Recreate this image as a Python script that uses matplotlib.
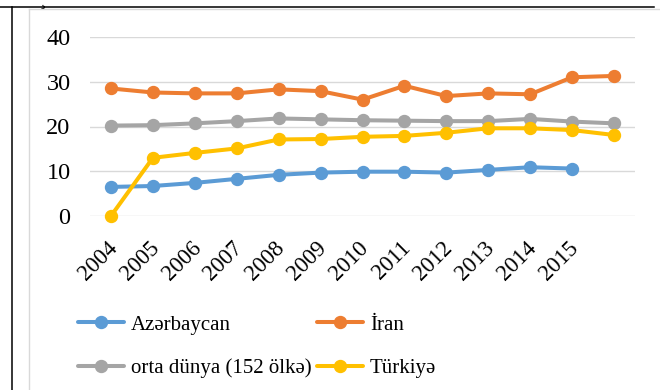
import matplotlib
matplotlib.use("Agg")
import matplotlib.pyplot as plt
from matplotlib.lines import Line2D
from matplotlib.transforms import ScaledTranslation

plt.rcParams['font.family'] = ['Liberation Serif', 'DejaVu Serif']

years = ['2004', '2005', '2006', '2007', '2008', '2009', '2010',
         '2011', '2012', '2013', '2014', '2015', '']
azerbaijan = [6.5, 6.7, 7.4, 8.3, 9.2, 9.7, 9.9, 9.9, 9.7, 10.3, 10.9, 10.6, None]
iran = [28.5, 27.6, 27.4, 27.4, 28.3, 27.9, 26.0, 29.1, 26.8, 27.4, 27.2, 31.0, 31.3]
world_avg = [20.2, 20.3, 20.7, 21.2, 21.8, 21.6, 21.4, 21.3, 21.2, 21.2, 21.7, 21.1, 20.7]
turkey = [0.0, 13.0, 14.1, 15.1, 17.1, 17.2, 17.7, 17.9, 18.6, 19.6, 19.6, 19.2, 18.1]

series = [
    ('Azərbaycan', azerbaijan, '#5B9BD5'),
    ('İran', iran, '#ED7D31'),
    ('orta dünya (152 ölkə)', world_avg, '#A5A5A5'),
    ('Türkiyə', turkey, '#FFC000'),
]

W, H = 660, 390
fig = plt.figure(figsize=(6.6, 3.9), dpi=100)
fig.patch.set_facecolor('white')

# plot area in pixel terms
left_px, right_px, top_px, bottom_px = 90, 635, 37, 216
ax = fig.add_axes([left_px / W, 1 - bottom_px / H,
                   (right_px - left_px) / W, (bottom_px - top_px) / H])

x = list(range(len(years)))
handles = []
for name, vals, color in series:
    xs = [i for i, v in zip(x, vals) if v is not None]
    ys = [v for v in vals if v is not None]
    h, = ax.plot(xs, ys, color=color, lw=2.9, marker='o', ms=8.6,
                 solid_capstyle='round', label=name, clip_on=False, zorder=3)
    handles.append(h)

ax.set_xlim(-0.5, len(years) - 0.5)
ax.set_ylim(0, 40)
ax.set_yticks([0, 10, 20, 30, 40])
ax.yaxis.grid(True, color='#D9D9D9', lw=1.0)
ax.set_axisbelow(True)
for s in ax.spines.values():
    s.set_visible(False)

ax.set_xticks(x)
ax.set_xticklabels(years, rotation=45, ha='right', va='center',
                   rotation_mode='anchor')
ax.tick_params(axis='both', length=0)
ax.tick_params(axis='y', pad=14, labelsize=17.5)
ax.tick_params(axis='x', pad=21, labelsize=16.5)
shift = ScaledTranslation(3 / 100, 0, fig.dpi_scale_trans)
for lbl in ax.get_xticklabels():
    lbl.set_transform(lbl.get_transform() + shift)

# legend laid out row by row: Azərbaycan, İran / orta dünya, Türkiyə
order = [0, 2, 1, 3]
leg = fig.legend([handles[i] for i in order], [series[i][0] for i in order],
                 loc='upper left', bbox_to_anchor=(78 / W, 1 - 315 / H),
                 ncol=2, frameon=False, fontsize=15, borderpad=0,
                 borderaxespad=0, handlelength=2.2, handletextpad=0.35,
                 columnspacing=0.25, labelspacing=1.15, numpoints=1)

# page borders around the chart
def px_line(x0, y0, x1, y1, color, lw):
    fig.add_artist(Line2D([x0 / W, x1 / W], [1 - y0 / H, 1 - y1 / H],
                          transform=fig.transFigure, color=color, lw=lw))

px_line(28.5, 8.5, 660, 8.5, '#D9D9D9', 1.0)
px_line(28.5, 8.5, 28.5, 390, '#D9D9D9', 1.0)
px_line(0, 6.5, 654, 6.5, 'black', 1.1)
px_line(11.5, 6.5, 11.5, 390, 'black', 1.1)
fig.text(43 / W, 1 - 1 / H, '¸', fontsize=14, ha='center', va='center')

fig.savefig('out.png', dpi=100)
